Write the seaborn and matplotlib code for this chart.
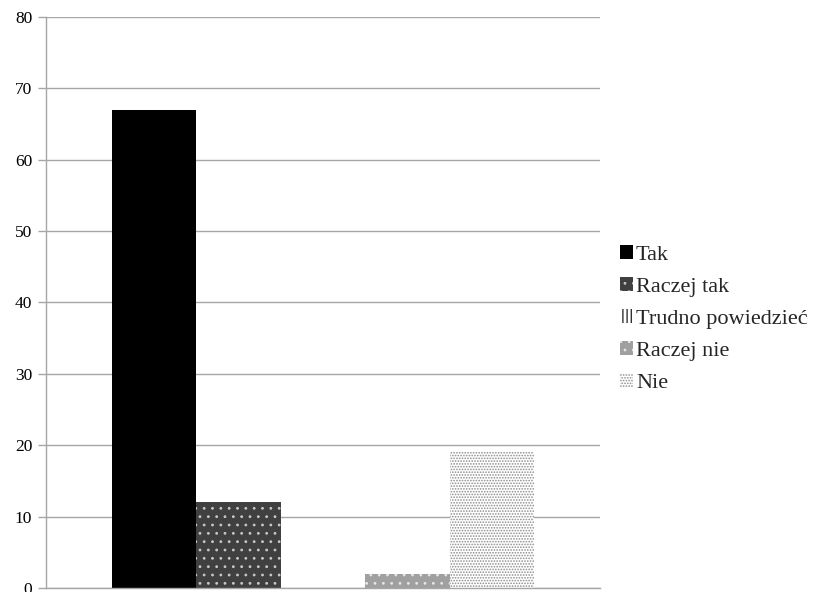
import matplotlib
matplotlib.use("Agg")
import matplotlib.pyplot as plt
from matplotlib.patches import Patch
import seaborn as sns
import pandas as pd

# Survey answers and their share (%)
answers = ["Tak", "Raczej tak", "Trudno powiedzieć", "Raczej nie", "Nie"]
values = [67, 12, 0, 2, 19]
y_ticks = [0, 10, 20, 30, 40, 50, 60, 70, 80]

df = pd.DataFrame({"grupa": [""] * len(answers), "odpowiedz": answers, "wartosc": values})

sns.set_theme(style="white")
plt.rcParams["font.family"] = ["Liberation Serif", "DejaVu Serif"]
plt.rcParams["hatch.linewidth"] = 0.8

# fill colour, hatch, hatch colour for each answer
styles = {
    "Tak": ("#000000", None, "#000000"),
    "Raczej tak": ("#404040", "..", "#c8c8c8"),
    "Trudno powiedzieć": ("#ffffff", "||||", "#000000"),
    "Raczej nie": ("#a0a0a0", "..", "#e6e6e6"),
    "Nie": ("#ffffff", "......", "#8c8c8c"),
}

fig = plt.figure(figsize=(8.19, 5.92), dpi=100)
ax = fig.add_axes([0.0562, 0.0068, 0.6764, 0.9645])

sns.barplot(data=df, x="grupa", y="wartosc", hue="odpowiedz", hue_order=answers,
            width=0.762, dodge=True, legend=False, ax=ax, saturation=1)

for name, container in zip(answers, ax.containers):
    fc, hatch, hc = styles[name]
    for bar in container:
        bar.set_facecolor(fc)
        bar.set_hatch(hatch)
        bar.set_edgecolor(hc)
        bar.set_linewidth(0)

ax.set_ylim(0, 80)
ax.set_yticks(y_ticks)
ax.set_yticklabels([str(t) for t in y_ticks], fontsize=12.5)
ax.set_xticks([])
ax.set_xlabel("")
ax.set_ylabel("")
ax.yaxis.grid(True, color="#a6a6a6", linewidth=1)
ax.set_axisbelow(True)
for side in ["top", "right"]:
    ax.spines[side].set_visible(False)
for side in ["left", "bottom"]:
    ax.spines[side].set_color("#a6a6a6")
    ax.spines[side].set_linewidth(1)
ax.tick_params(axis="y", left=True, length=6, color="#a6a6a6", width=1, pad=4, labelcolor="#000000")

handles = []
for name in answers:
    fc, hatch, hc = styles[name]
    handles.append(Patch(facecolor=fc, edgecolor=hc, hatch=hatch, linewidth=0, label=name))
fig.legend(handles=handles, loc="center left", bbox_to_anchor=(0.757, 0.461),
           frameon=False, fontsize=16, handlelength=0.6, handleheight=0.6,
           handletextpad=0.12, labelspacing=0.55, borderpad=0, borderaxespad=0)

fig.savefig("out.png", dpi=100)
